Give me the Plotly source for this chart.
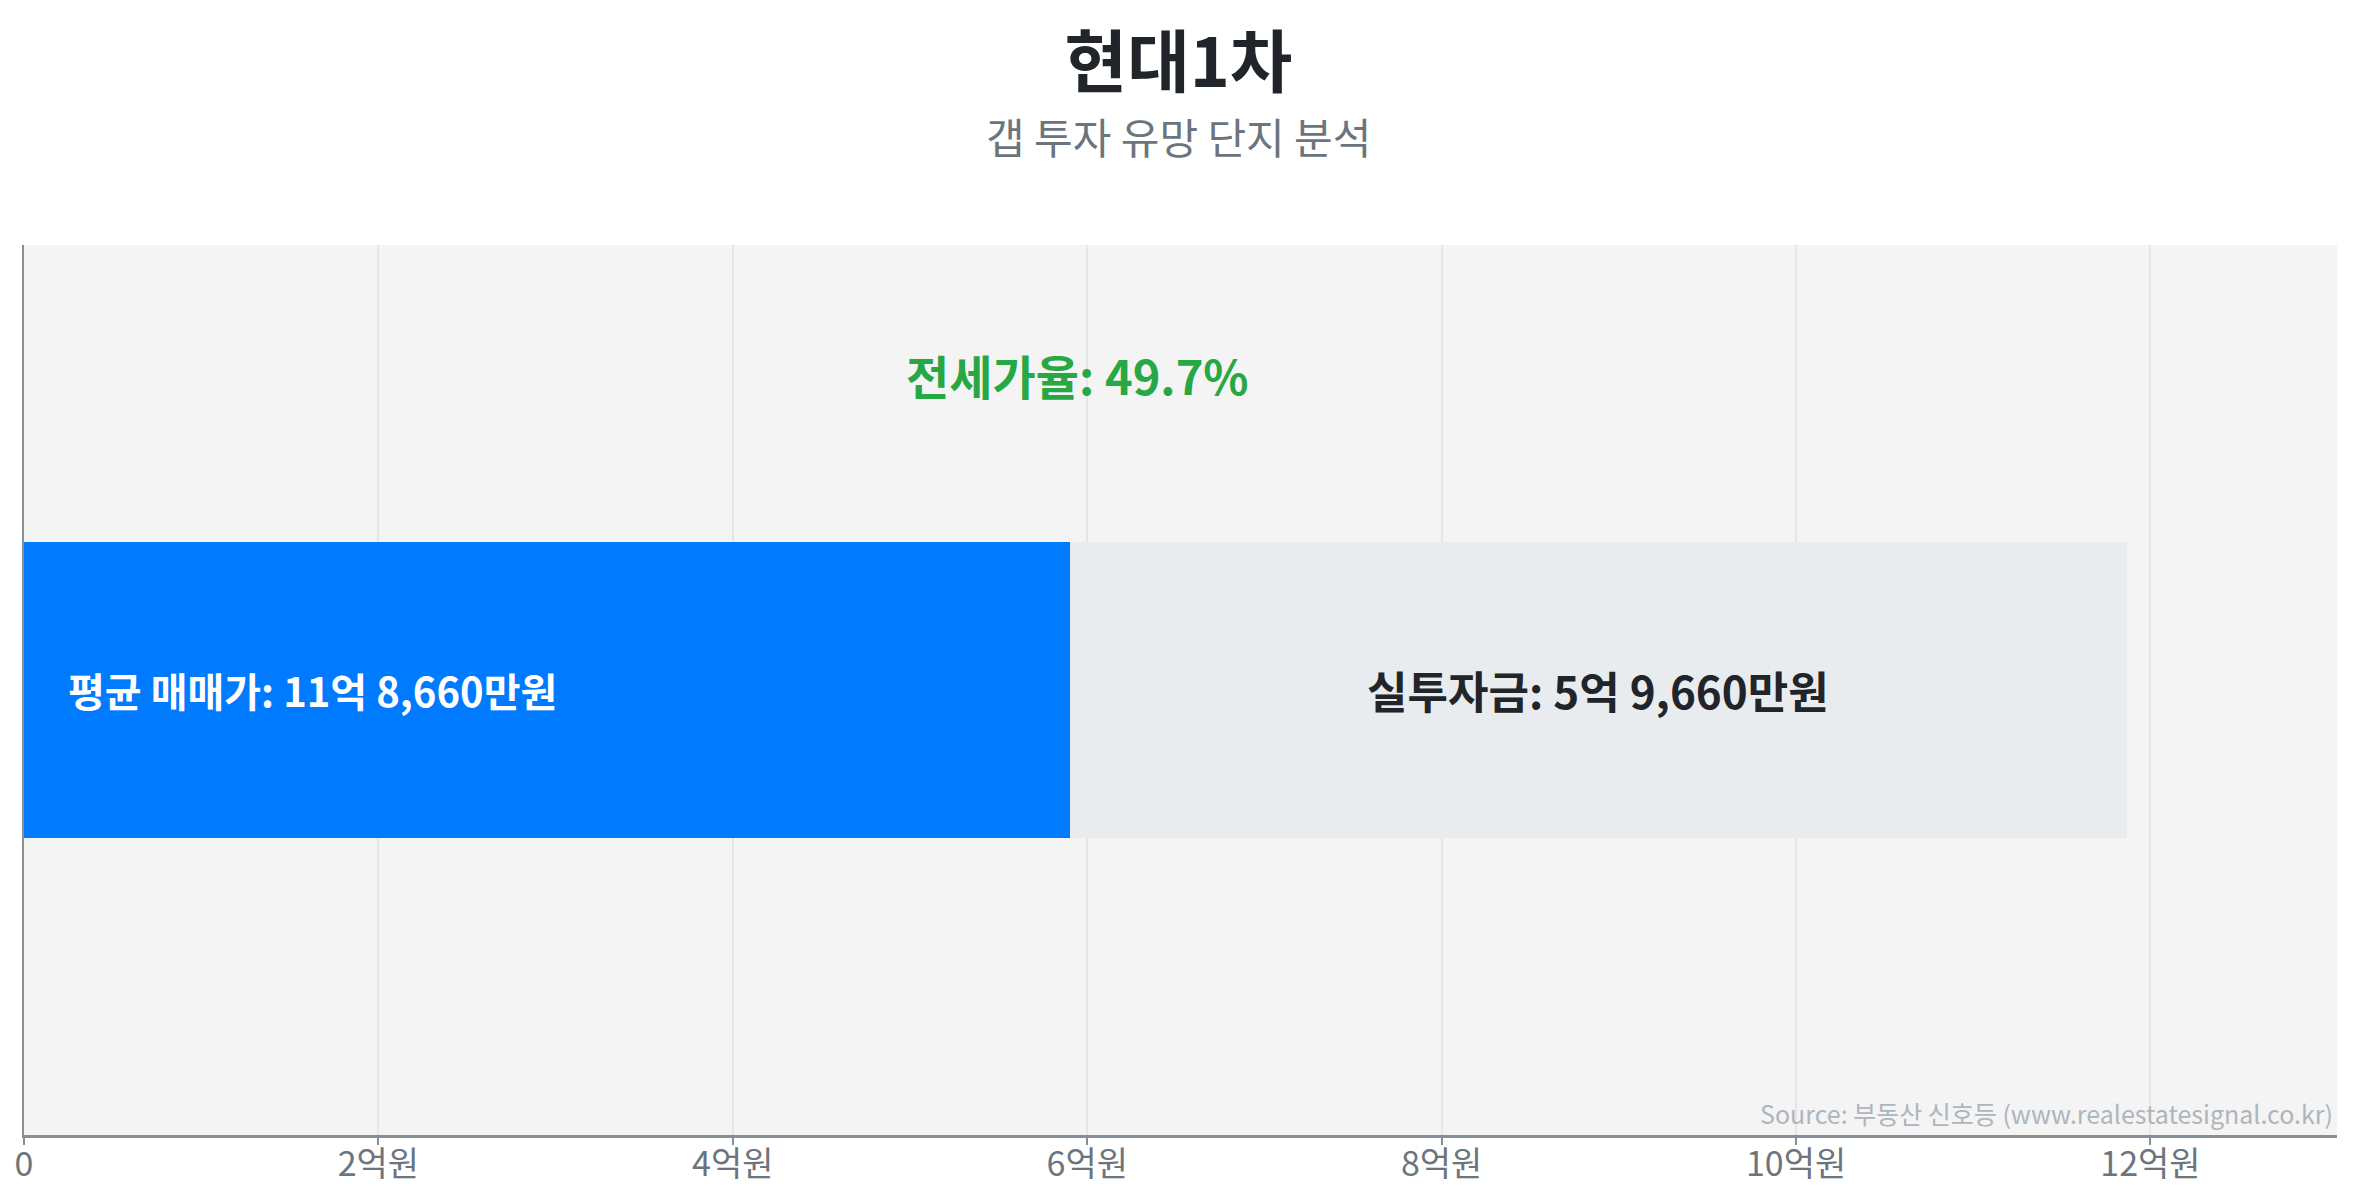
import plotly.graph_objects as go

# values in 만원
complex_name = "현대1차"
avg_price = 118660          # 평균 매매가
jeonse_price = 59000        # 전세가
gap_amount = 59660          # 실투자금
jeonse_ratio = 49.7

tick_vals = [0, 20000, 40000, 60000, 80000, 100000, 120000]
tick_text = ["0", "2억원", "4억원", "6억원", "8억원", "10억원", "12억원"]

FONT = "Noto Sans CJK KR"


def won_label(v):
    eok, man = divmod(v, 10000)
    return f"{eok}억 {man:,}만원"


fig = go.Figure()
fig.add_trace(go.Bar(x=[jeonse_price], y=[0], orientation="h", width=1,
                     marker=dict(color="#007bff", line=dict(width=0)),
                     hoverinfo="skip", showlegend=False))
fig.add_trace(go.Bar(x=[gap_amount], y=[0], orientation="h", width=1,
                     marker=dict(color="#e9ecef", line=dict(width=0)),
                     hoverinfo="skip", showlegend=False))

# labels on the bar
fig.add_annotation(x=0, y=0, xref="x", yref="y", xanchor="left", xshift=42,
                   text=f"<b>평균 매매가: {won_label(avg_price)}</b>",
                   showarrow=False, font=dict(size=40, color="white", family=FONT))
fig.add_annotation(x=jeonse_price + gap_amount / 2, y=0, xref="x", yref="y",
                   text=f"<b>실투자금: {won_label(gap_amount)}</b>",
                   showarrow=False, font=dict(size=44, color="#212529", family=FONT))
fig.add_annotation(x=jeonse_price, y=1.065, xref="x", yref="y", xshift=8,
                   text=f"<b>전세가율: {jeonse_ratio}%</b>",
                   showarrow=False, font=dict(size=47, color="#28a745", family=FONT))

# subtitle and source
fig.add_annotation(x=0.4991, y=1.123, xref="paper", yref="paper",
                   xanchor="center", yanchor="middle",
                   text="갭 투자 유망 단지 분석", showarrow=False,
                   font=dict(size=42, color="#6c757d", family=FONT))
fig.add_annotation(x=0.999, y=0.002, xref="paper", yref="paper",
                   xanchor="right", yanchor="bottom",
                   text="Source: 부동산 신호등 (www.realestatesignal.co.kr)",
                   showarrow=False, font=dict(size=25, color="#adb5bd", family=FONT))

fig.update_layout(
    width=2341, height=1184,
    barmode="stack",
    title=dict(text=f"<b>{complex_name}</b>", x=0.5, xanchor="center",
               y=0.9535, yanchor="middle", yref="container",
               font=dict(size=68, color="#212529", family=FONT)),
    font=dict(family=FONT),
    paper_bgcolor="white",
    plot_bgcolor="#f4f4f4",
    margin=dict(l=16, r=12, t=237, b=57),
    xaxis=dict(range=[0, avg_price * 1.1], tickvals=tick_vals, ticktext=tick_text,
               showgrid=True, gridcolor="#e6e6e6", gridwidth=2, zeroline=False,
               showline=True, linecolor="#868e96", linewidth=3,
               ticks="outside", ticklen=7, tickcolor="#868e96", tickwidth=2,
               ticklabelstandoff=-10, automargin=False,
               tickfont=dict(size=34, color="#6c757d", family=FONT)),
    yaxis=dict(range=[-1.5, 1.5], showticklabels=False, showgrid=False,
               zeroline=False, showline=True, linecolor="#868e96", linewidth=2,
               automargin=False),
)

fig.write_html("out.html")
